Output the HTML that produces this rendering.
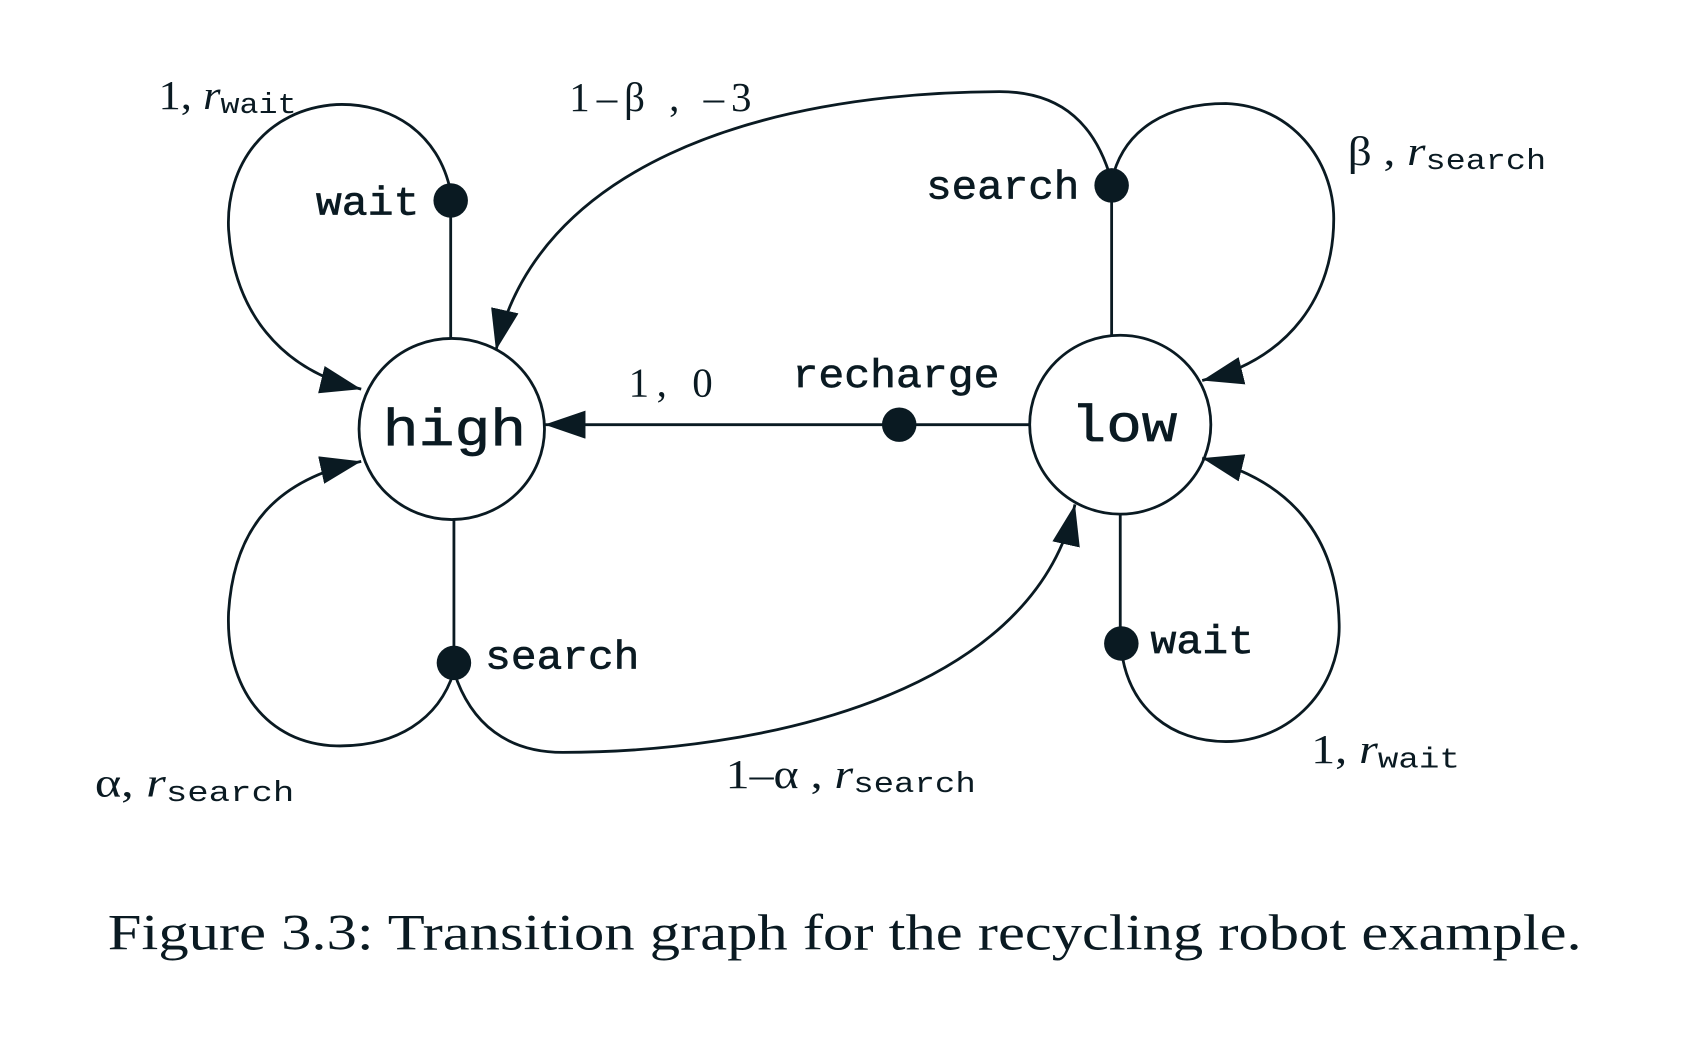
<!DOCTYPE html>
<html><head><meta charset="utf-8"><style>
html,body{margin:0;padding:0;background:#fff;}
svg{display:block;}
.m{font-family:"Liberation Mono",monospace;fill:#0a1a22;}
.s{font-family:"Liberation Serif",serif;fill:#0a1a22;}
</style></head><body>
<svg width="1682" height="1038" viewBox="0 0 1560 963" preserveAspectRatio="none" xmlns="http://www.w3.org/2000/svg">
<defs>
<marker id="a" markerUnits="userSpaceOnUse" markerWidth="40" markerHeight="30" refX="38" refY="13" orient="auto">
<path d="M0,0 L38,13 L0,26 Z" fill="#0a1a22"/>
</marker>
</defs>
<g transform="translate(-3,-2)">
<g fill="none" stroke="#0a1a22" stroke-width="2.6">
<ellipse cx="422" cy="400" rx="86" ry="84" fill="#fff"/>
<ellipse cx="1042" cy="396" rx="84" ry="83" fill="#fff"/>
<line x1="421" y1="200" x2="421" y2="317"/>
<line x1="424" y1="484" x2="424" y2="610"/>
<line x1="1034" y1="185" x2="1034" y2="313"/>
<line x1="1042" y1="479" x2="1042" y2="590"/>
<line x1="958" y1="396" x2="508" y2="396" marker-end="url(#a)"/>
<path d="M421,180 C410,125 365,97 315,99 C250,103 212,155 215,215 C220,290 262,345 338,363" marker-end="url(#a)"/>
<path d="M424,625 C410,670 370,695 315,694 C250,692 212,640 215,570 C220,490 260,447 338,430" marker-end="url(#a)"/>
<path d="M424,625 C440,675 475,700 525,700 C700,700 960,650 1000,470" marker-end="url(#a)"/>
<path d="M1034,170 C1045,120 1088,98 1140,98 C1200,100 1240,150 1240,205 C1240,275 1200,335 1118,355" marker-end="url(#a)"/>
<path d="M1034,170 C1020,120 990,87 930,87 C700,88 500,160 463,327" marker-end="url(#a)"/>
<path d="M1043,605 C1050,660 1090,690 1140,690 C1200,690 1247,640 1245,580 C1243,500 1200,447 1118,427" marker-end="url(#a)"/>
</g>
<g fill="#0a1a22">
<circle cx="421" cy="188" r="16"/>
<circle cx="424" cy="617" r="16"/>
<circle cx="1034" cy="174" r="16"/>
<circle cx="1043" cy="599" r="16"/>
<circle cx="837" cy="396" r="16"/>
</g>
</g>
<g stroke="#0a1a22" stroke-width="0.6">
<text class="m" x="355" y="413" font-size="48" textLength="133" lengthAdjust="spacingAndGlyphs">high</text>
<text class="m" x="993" y="409" font-size="48" textLength="99" lengthAdjust="spacingAndGlyphs">low</text>
<text class="m" x="293" y="199" font-size="37" textLength="96" lengthAdjust="spacingAndGlyphs">wait</text>
<text class="m" x="450" y="620" font-size="37" textLength="143" lengthAdjust="spacingAndGlyphs">search</text>
<text class="m" x="859" y="184" font-size="37" textLength="142" lengthAdjust="spacingAndGlyphs">search</text>
<text class="m" x="1067" y="606" font-size="37" textLength="96" lengthAdjust="spacingAndGlyphs">wait</text>
<text class="m" x="735" y="359" font-size="37" textLength="192" lengthAdjust="spacingAndGlyphs">recharge</text>
</g>
<text class="s" x="583" y="368" font-size="38" textLength="78" lengthAdjust="spacing">1,  0</text>
<text class="s" x="147" y="101" font-size="38" textLength="128" lengthAdjust="spacingAndGlyphs">1, <tspan font-style="italic">r</tspan><tspan class="m" font-size="27" dy="4">wait</tspan></text>
<text class="s" x="528" y="103" font-size="38" textLength="169" lengthAdjust="spacing">1–β ,   –3</text>
<text class="s" x="1250" y="153" font-size="38" textLength="184" lengthAdjust="spacingAndGlyphs">β , <tspan font-style="italic">r</tspan><tspan class="m" font-size="27" dy="4">search</tspan></text>
<text class="s" x="88" y="739" font-size="38" textLength="185" lengthAdjust="spacingAndGlyphs">α, <tspan font-style="italic">r</tspan><tspan class="m" font-size="27" dy="4">search</tspan></text>
<text class="s" x="673" y="731" font-size="38" textLength="232" lengthAdjust="spacingAndGlyphs">1–α , <tspan font-style="italic">r</tspan><tspan class="m" font-size="27" dy="4">search</tspan></text>
<text class="s" x="1216" y="708" font-size="38" textLength="138" lengthAdjust="spacingAndGlyphs">1, <tspan font-style="italic">r</tspan><tspan class="m" font-size="27" dy="4">wait</tspan></text>
<text class="s" x="100" y="881" font-size="47" textLength="1367" lengthAdjust="spacingAndGlyphs">Figure 3.3: Transition graph for the recycling robot example.</text>
</svg>
</body></html>
